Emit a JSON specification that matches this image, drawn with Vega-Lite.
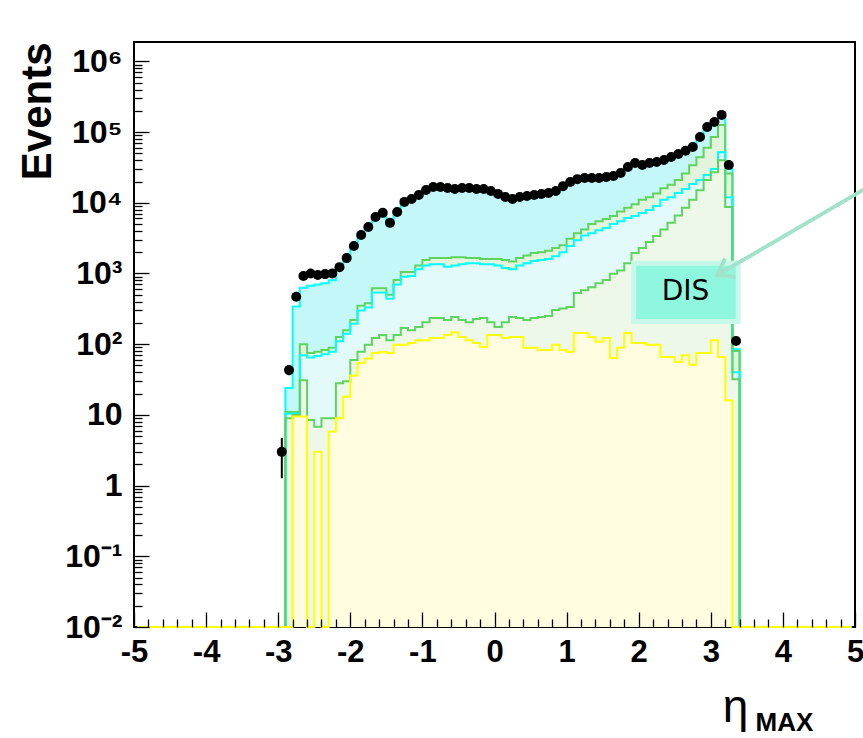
{
  "$schema": "https://vega.github.io/schema/vega-lite/v6.json",
  "width": 721,
  "height": 585,
  "autosize": "none",
  "padding": {"left": 134, "top": 42, "right": 8, "bottom": 111},
  "background": "white",
  "config": {
    "view": {"stroke": "black", "strokeWidth": 2},
    "mark": {"invalid": "show"}
  },
  "resolve": {"axis": {"x": "independent", "y": "independent"}},
  "data": {
    "values": [
      {"x": -4.95, "x0": -5.0, "x1": -4.9, "d": 0, "t": 0, "g1": 0, "c": 0, "g2": 0, "yl": 0},
      {"x": -2.95, "x0": -3.0, "x1": -2.9, "d": 3, "t": 0, "g1": 0, "c": 0, "g2": 0, "yl": 0, "lo": 1.27, "hi": 4.73},
      {"x": -2.85, "x0": -2.9, "x1": -2.8, "d": 43, "t": 24, "g1": 11, "c": 10.5, "g2": 9, "yl": 0, "lo": 36.4, "hi": 49.6},
      {"x": -2.75, "x0": -2.8, "x1": -2.7, "d": 470, "t": 340, "g1": 11, "c": 10.5, "g2": 10, "yl": 9.5},
      {"x": -2.65, "x0": -2.7, "x1": -2.6, "d": 920, "t": 630, "g1": 100, "c": 70, "g2": 31, "yl": 9.5},
      {"x": -2.55, "x0": -2.6, "x1": -2.5, "d": 1000, "t": 670, "g1": 75, "c": 65, "g2": 8.5, "yl": 0},
      {"x": -2.45, "x0": -2.5, "x1": -2.4, "d": 950, "t": 700, "g1": 78, "c": 68, "g2": 6.8, "yl": 3},
      {"x": -2.35, "x0": -2.4, "x1": -2.3, "d": 980, "t": 730, "g1": 83, "c": 72, "g2": 9, "yl": 0},
      {"x": -2.25, "x0": -2.3, "x1": -2.2, "d": 1000, "t": 800, "g1": 89, "c": 78, "g2": 9, "yl": 5.8},
      {"x": -2.15, "x0": -2.2, "x1": -2.1, "d": 1230, "t": 1170, "g1": 126, "c": 110, "g2": 28, "yl": 9},
      {"x": -2.05, "x0": -2.1, "x1": -2.0, "d": 1650, "t": 1570, "g1": 158, "c": 140, "g2": 30, "yl": 18},
      {"x": -1.95, "x0": -2.0, "x1": -1.9, "d": 2450, "t": 2330, "g1": 220, "c": 195, "g2": 60, "yl": 36},
      {"x": -1.85, "x0": -1.9, "x1": -1.8, "d": 3500, "t": 3330, "g1": 350, "c": 300, "g2": 78, "yl": 54},
      {"x": -1.75, "x0": -1.8, "x1": -1.7, "d": 4550, "t": 4320, "g1": 380, "c": 330, "g2": 98, "yl": 63},
      {"x": -1.65, "x0": -1.7, "x1": -1.6, "d": 6300, "t": 5990, "g1": 620, "c": 540, "g2": 122, "yl": 75},
      {"x": -1.55, "x0": -1.6, "x1": -1.5, "d": 7200, "t": 6840, "g1": 620, "c": 540, "g2": 135, "yl": 78},
      {"x": -1.45, "x0": -1.5, "x1": -1.4, "d": 5200, "t": 4940, "g1": 500, "c": 440, "g2": 114, "yl": 75},
      {"x": -1.35, "x0": -1.4, "x1": -1.3, "d": 7400, "t": 7030, "g1": 810, "c": 700, "g2": 135, "yl": 98},
      {"x": -1.25, "x0": -1.3, "x1": -1.2, "d": 10300, "t": 9790, "g1": 1050, "c": 900, "g2": 170, "yl": 98},
      {"x": -1.15, "x0": -1.2, "x1": -1.1, "d": 11300, "t": 10700, "g1": 1050, "c": 920, "g2": 158, "yl": 104},
      {"x": -1.05, "x0": -1.1, "x1": -1.0, "d": 12900, "t": 12300, "g1": 1300, "c": 1150, "g2": 175, "yl": 114},
      {"x": -0.95, "x0": -1.0, "x1": -0.9, "d": 15200, "t": 14400, "g1": 1550, "c": 1300, "g2": 205, "yl": 114},
      {"x": -0.85, "x0": -0.9, "x1": -0.8, "d": 16700, "t": 15900, "g1": 1650, "c": 1350, "g2": 235, "yl": 122},
      {"x": -0.75, "x0": -0.8, "x1": -0.7, "d": 16700, "t": 15900, "g1": 1650, "c": 1350, "g2": 235, "yl": 122},
      {"x": -0.65, "x0": -0.7, "x1": -0.6, "d": 16200, "t": 15400, "g1": 1650, "c": 1250, "g2": 220, "yl": 135},
      {"x": -0.55, "x0": -0.6, "x1": -0.5, "d": 15700, "t": 14900, "g1": 1700, "c": 1300, "g2": 243, "yl": 148},
      {"x": -0.45, "x0": -0.5, "x1": -0.4, "d": 16200, "t": 15400, "g1": 1700, "c": 1350, "g2": 220, "yl": 126},
      {"x": -0.35, "x0": -0.4, "x1": -0.3, "d": 16200, "t": 15400, "g1": 1650, "c": 1400, "g2": 205, "yl": 114},
      {"x": -0.25, "x0": -0.3, "x1": -0.2, "d": 15700, "t": 14900, "g1": 1650, "c": 1400, "g2": 228, "yl": 104},
      {"x": -0.15, "x0": -0.2, "x1": -0.1, "d": 15700, "t": 14900, "g1": 1600, "c": 1350, "g2": 235, "yl": 91},
      {"x": -0.05, "x0": -0.1, "x1": 0.0, "d": 14700, "t": 14000, "g1": 1600, "c": 1350, "g2": 205, "yl": 135},
      {"x": 0.05, "x0": 0.0, "x1": 0.1, "d": 13300, "t": 12600, "g1": 1600, "c": 1300, "g2": 175, "yl": 135},
      {"x": 0.15, "x0": 0.1, "x1": 0.2, "d": 12100, "t": 11500, "g1": 1550, "c": 1200, "g2": 205, "yl": 122},
      {"x": 0.25, "x0": 0.2, "x1": 0.3, "d": 11300, "t": 10700, "g1": 1480, "c": 1150, "g2": 243, "yl": 126},
      {"x": 0.35, "x0": 0.3, "x1": 0.4, "d": 12100, "t": 11500, "g1": 1650, "c": 1300, "g2": 235, "yl": 126},
      {"x": 0.45, "x0": 0.4, "x1": 0.5, "d": 12500, "t": 11900, "g1": 1800, "c": 1400, "g2": 220, "yl": 89},
      {"x": 0.55, "x0": 0.5, "x1": 0.6, "d": 12900, "t": 12300, "g1": 1950, "c": 1500, "g2": 235, "yl": 89},
      {"x": 0.65, "x0": 0.6, "x1": 0.7, "d": 13300, "t": 12600, "g1": 2000, "c": 1550, "g2": 243, "yl": 83},
      {"x": 0.75, "x0": 0.7, "x1": 0.8, "d": 13800, "t": 13100, "g1": 2100, "c": 1600, "g2": 250, "yl": 83},
      {"x": 0.85, "x0": 0.8, "x1": 0.9, "d": 14700, "t": 14000, "g1": 2300, "c": 1750, "g2": 305, "yl": 98},
      {"x": 0.95, "x0": 0.9, "x1": 1.0, "d": 17200, "t": 16300, "g1": 2500, "c": 2000, "g2": 320, "yl": 83},
      {"x": 1.05, "x0": 1.0, "x1": 1.1, "d": 19700, "t": 18700, "g1": 3100, "c": 2450, "g2": 336, "yl": 78},
      {"x": 1.15, "x0": 1.1, "x1": 1.2, "d": 21600, "t": 20500, "g1": 3700, "c": 2950, "g2": 530, "yl": 144},
      {"x": 1.25, "x0": 1.2, "x1": 1.3, "d": 22400, "t": 21300, "g1": 4200, "c": 3450, "g2": 580, "yl": 144},
      {"x": 1.35, "x0": 1.3, "x1": 1.4, "d": 22400, "t": 21300, "g1": 5000, "c": 3700, "g2": 640, "yl": 126},
      {"x": 1.45, "x0": 1.4, "x1": 1.5, "d": 22400, "t": 21300, "g1": 5500, "c": 4100, "g2": 730, "yl": 108},
      {"x": 1.55, "x0": 1.5, "x1": 1.6, "d": 23200, "t": 22000, "g1": 5900, "c": 4400, "g2": 810, "yl": 122},
      {"x": 1.65, "x0": 1.6, "x1": 1.7, "d": 24000, "t": 22800, "g1": 6500, "c": 5000, "g2": 990, "yl": 64},
      {"x": 1.75, "x0": 1.7, "x1": 1.8, "d": 26400, "t": 25100, "g1": 7500, "c": 5500, "g2": 1100, "yl": 89},
      {"x": 1.85, "x0": 1.8, "x1": 1.9, "d": 32100, "t": 30500, "g1": 8500, "c": 6100, "g2": 1400, "yl": 144},
      {"x": 1.95, "x0": 1.9, "x1": 2.0, "d": 36500, "t": 34700, "g1": 9500, "c": 6500, "g2": 1950, "yl": 104},
      {"x": 2.05, "x0": 2.0, "x1": 2.1, "d": 34200, "t": 32500, "g1": 11000, "c": 7200, "g2": 2300, "yl": 104},
      {"x": 2.15, "x0": 2.1, "x1": 2.2, "d": 36500, "t": 34700, "g1": 12000, "c": 7900, "g2": 2800, "yl": 98},
      {"x": 2.25, "x0": 2.2, "x1": 2.3, "d": 37800, "t": 35900, "g1": 13500, "c": 9000, "g2": 3400, "yl": 98},
      {"x": 2.35, "x0": 2.3, "x1": 2.4, "d": 40300, "t": 38300, "g1": 16000, "c": 11000, "g2": 4200, "yl": 66},
      {"x": 2.45, "x0": 2.4, "x1": 2.5, "d": 44500, "t": 42300, "g1": 18000, "c": 12000, "g2": 5200, "yl": 66},
      {"x": 2.55, "x0": 2.5, "x1": 2.6, "d": 49000, "t": 46600, "g1": 21000, "c": 13700, "g2": 6600, "yl": 56},
      {"x": 2.65, "x0": 2.6, "x1": 2.7, "d": 54500, "t": 51800, "g1": 26000, "c": 15700, "g2": 8500, "yl": 70},
      {"x": 2.75, "x0": 2.7, "x1": 2.8, "d": 61500, "t": 58400, "g1": 34000, "c": 18500, "g2": 11000, "yl": 51},
      {"x": 2.85, "x0": 2.8, "x1": 2.9, "d": 85000, "t": 80800, "g1": 44000, "c": 21000, "g2": 15000, "yl": 75},
      {"x": 2.95, "x0": 2.9, "x1": 3.0, "d": 118000, "t": 112000, "g1": 60000, "c": 24700, "g2": 21000, "yl": 75},
      {"x": 3.05, "x0": 3.0, "x1": 3.1, "d": 139000, "t": 132000, "g1": 85000, "c": 30000, "g2": 27000, "yl": 114},
      {"x": 3.15, "x0": 3.1, "x1": 3.2, "d": 175000, "t": 166000, "g1": 126000, "c": 52000, "g2": 40000, "yl": 66},
      {"x": 3.25, "x0": 3.2, "x1": 3.3, "d": 34200, "t": 30000, "g1": 26000, "c": 12000, "g2": 8700, "yl": 16},
      {"x": 3.35, "x0": 3.3, "x1": 3.4, "d": 111, "t": 85, "g1": 80, "c": 40, "g2": 32, "yl": 0, "lo": 100.5, "hi": 121.5},
      {"x": 3.45, "x0": 3.4, "x1": 3.5, "d": 0, "t": 0, "g1": 0, "c": 0, "g2": 0, "yl": 0},
      {"x": 4.95, "x0": 4.9, "x1": 5.0, "d": 0, "t": 0, "g1": 0, "c": 0, "g2": 0, "yl": 0}
    ]
  },
  "layer": [
    {
      "mark": {"type": "area", "interpolate": "step", "fill": "#c4f7f7"},
      "encoding": {
        "x": {
          "field": "x", "type": "quantitative",
          "scale": {"domain": [-5, 5], "nice": false, "zero": false},
          "axis": {
            "orient": "bottom", "zindex": 2,
            "values": [-5, -4, -3, -2, -1, 0, 1, 2, 3, 4, 5],
            "labelExpr": "'' + datum.value",
            "tickSize": -15, "tickColor": "black", "tickWidth": 1.3,
            "domain": false, "grid": false,
            "labelFont": "Liberation Sans", "labelFontWeight": "bold", "labelFontSize": 31, "labelColor": "black",
            "labelPadding": 25, "labelOverlap": false, "labelFlush": false,
            "title": "η", "titleFont": "Liberation Sans", "titleFontWeight": "normal", "titleFontSize": 46, "titleColor": "black",
            "titleX": 601, "titleY": 94, "titleAlign": "center", "titleBaseline": "alphabetic"
          }
        },
        "y": {
          "field": "t", "type": "quantitative",
          "scale": {"type": "log", "domain": [0.01, 1880000], "nice": false, "clamp": true},
          "axis": {
            "orient": "left", "zindex": 2,
            "values": [0.01, 0.1, 1, 10, 100, 1000, 10000, 100000, 1000000],
            "labelExpr": "datum.value == 0.01 ? '10⁻²' : datum.value == 0.1 ? '10⁻¹' : datum.value == 1 ? '1' : datum.value == 10 ? '10' : datum.value == 100 ? '10²' : datum.value == 1000 ? '10³' : datum.value == 10000 ? '10⁴' : datum.value == 100000 ? '10⁵' : '10⁶'",
            "tickSize": -15, "tickColor": "black", "tickWidth": 1.3,
            "domain": false, "grid": false,
            "labelFont": "Liberation Sans", "labelFontWeight": "bold", "labelFontSize": 32, "labelColor": "black",
            "labelPadding": 27, "labelOverlap": false, "labelFlush": false,
            "title": "Events", "titleFont": "Liberation Sans", "titleFontWeight": "bold", "titleFontSize": 42, "titleColor": "black",
            "titleAngle": 270, "titleAlign": "right", "titleBaseline": "middle", "titleX": -97, "titleY": 0
          }
        },
        "y2": {"datum": 0.01}
      }
    },
    {
      "mark": {"type": "area", "interpolate": "step", "fill": "#e2f5dc"},
      "encoding": {
        "x": {
          "field": "x", "type": "quantitative",
          "axis": {
            "orient": "bottom", "zindex": 2,
            "values": [-4.8, -4.6, -4.4, -4.2, -3.8, -3.6, -3.4, -3.2, -2.8, -2.6, -2.4, -2.2, -1.8, -1.6, -1.4, -1.2, -0.8, -0.6, -0.4, -0.2, 0.2, 0.4, 0.6, 0.8, 1.2, 1.4, 1.6, 1.8, 2.2, 2.4, 2.6, 2.8, 3.2, 3.4, 3.6, 3.8, 4.2, 4.4, 4.6, 4.8],
            "tickSize": -8, "tickColor": "black", "tickWidth": 1.3,
            "labels": false, "domain": false, "grid": false, "title": null
          }
        },
        "y": {
          "field": "g1", "type": "quantitative",
          "axis": {
            "orient": "left", "zindex": 2,
            "values": [0.02, 0.03, 0.04, 0.05, 0.06, 0.07, 0.08, 0.09, 0.2, 0.3, 0.4, 0.5, 0.6, 0.7, 0.8, 0.9, 2, 3, 4, 5, 6, 7, 8, 9, 20, 30, 40, 50, 60, 70, 80, 90, 200, 300, 400, 500, 600, 700, 800, 900, 2000, 3000, 4000, 5000, 6000, 7000, 8000, 9000, 20000, 30000, 40000, 50000, 60000, 70000, 80000, 90000, 200000, 300000, 400000, 500000, 600000, 700000, 800000, 900000],
            "tickSize": -8, "tickColor": "black", "tickWidth": 1.3,
            "labels": false, "domain": false, "grid": false, "title": null
          }
        },
        "y2": {"datum": 0.01}
      }
    },
    {
      "mark": {"type": "area", "interpolate": "step", "fill": "#e3fafa"},
      "encoding": {
        "x": {"field": "x", "type": "quantitative", "axis": null},
        "y": {"field": "c", "type": "quantitative", "axis": null},
        "y2": {"datum": 0.01}
      }
    },
    {
      "mark": {"type": "area", "interpolate": "step", "fill": "#eef8e9"},
      "encoding": {
        "x": {"field": "x", "type": "quantitative", "axis": null},
        "y": {"field": "g2", "type": "quantitative", "axis": null},
        "y2": {"datum": 0.01}
      }
    },
    {
      "mark": {"type": "area", "interpolate": "step", "fill": "#fffce0"},
      "encoding": {
        "x": {"field": "x", "type": "quantitative", "axis": null},
        "y": {"field": "yl", "type": "quantitative", "axis": null},
        "y2": {"datum": 0.01}
      }
    },
    {
      "mark": {"type": "line", "interpolate": "step", "stroke": "#00ffff", "strokeWidth": 2},
      "encoding": {
        "x": {"field": "x", "type": "quantitative", "axis": null},
        "y": {"field": "t", "type": "quantitative", "axis": null}
      }
    },
    {
      "mark": {"type": "line", "interpolate": "step", "stroke": "#5fd35f", "strokeWidth": 2},
      "encoding": {
        "x": {"field": "x", "type": "quantitative", "axis": null},
        "y": {"field": "g1", "type": "quantitative", "axis": null}
      }
    },
    {
      "mark": {"type": "line", "interpolate": "step", "stroke": "#00ffff", "strokeWidth": 2},
      "encoding": {
        "x": {"field": "x", "type": "quantitative", "axis": null},
        "y": {"field": "c", "type": "quantitative", "axis": null}
      }
    },
    {
      "mark": {"type": "line", "interpolate": "step", "stroke": "#5fd35f", "strokeWidth": 2},
      "encoding": {
        "x": {"field": "x", "type": "quantitative", "axis": null},
        "y": {"field": "g2", "type": "quantitative", "axis": null}
      }
    },
    {
      "mark": {"type": "line", "interpolate": "step", "stroke": "#ffff00", "strokeWidth": 2},
      "encoding": {
        "x": {"field": "x", "type": "quantitative", "axis": null},
        "y": {"field": "yl", "type": "quantitative", "axis": null}
      }
    },
    {
      "transform": [{"filter": "datum.d > 0"}],
      "mark": {"type": "rule", "stroke": "black", "strokeWidth": 1.5},
      "encoding": {
        "x": {
          "field": "x0", "type": "quantitative",
          "axis": {
            "orient": "bottom", "ticks": false, "labels": false, "domain": false, "grid": false,
            "title": "MAX", "titleFont": "Liberation Sans", "titleFontWeight": "bold", "titleFontSize": 26, "titleColor": "black",
            "titleX": 650, "titleY": 103, "titleAlign": "center", "titleBaseline": "alphabetic"
          }
        },
        "x2": {"field": "x1"},
        "y": {"field": "d", "type": "quantitative", "axis": null}
      }
    },
    {
      "transform": [{"filter": "isValid(datum.lo)"}],
      "mark": {"type": "rule", "stroke": "black", "strokeWidth": 2},
      "encoding": {
        "x": {"field": "x", "type": "quantitative", "axis": null},
        "y": {"field": "lo", "type": "quantitative", "axis": null},
        "y2": {"field": "hi"}
      }
    },
    {
      "transform": [{"filter": "datum.d > 0"}],
      "mark": {"type": "point", "shape": "circle", "filled": true, "fill": "black", "size": 100, "opacity": 1},
      "encoding": {
        "x": {"field": "x", "type": "quantitative", "axis": null},
        "y": {"field": "d", "type": "quantitative", "axis": null}
      }
    },
    {
      "data": {"values": [{"label": "DIS"}]},
      "mark": {"type": "rect", "fill": "#8ff7dd", "stroke": "#c8f8ec", "strokeWidth": 5},
      "encoding": {
        "x": {"datum": 1.93, "type": "quantitative", "axis": null},
        "x2": {"datum": 3.38},
        "y": {"datum": 1400, "type": "quantitative", "axis": null},
        "y2": {"datum": 210}
      }
    },
    {
      "data": {"values": [{"label": "DIS"}]},
      "mark": {"type": "text", "font": "DejaVu Sans", "fontSize": 28, "color": "black", "align": "center", "baseline": "middle"},
      "encoding": {
        "x": {"datum": 2.65, "type": "quantitative", "axis": null},
        "y": {"datum": 547, "type": "quantitative", "axis": null},
        "text": {"field": "label"}
      }
    },
    {
      "data": {"values": [{"label": "DIS"}]},
      "mark": {"type": "rule", "stroke": "#a0e3c8", "strokeWidth": 4},
      "encoding": {
        "x": {"datum": 5.16, "type": "quantitative", "axis": null},
        "x2": {"datum": 3.09},
        "y": {"datum": 16200, "type": "quantitative", "axis": null},
        "y2": {"datum": 950}
      }
    },
    {
      "data": {"values": [{"label": "DIS"}]},
      "mark": {"type": "point", "shape": "M-1,-0.7L0,0L-1,0.7", "filled": false, "stroke": "#a0e3c8", "strokeWidth": 4, "size": 900, "angle": 150, "opacity": 1},
      "encoding": {
        "x": {"datum": 3.09, "type": "quantitative", "axis": null},
        "y": {"datum": 950, "type": "quantitative", "axis": null}
      }
    }
  ]
}
